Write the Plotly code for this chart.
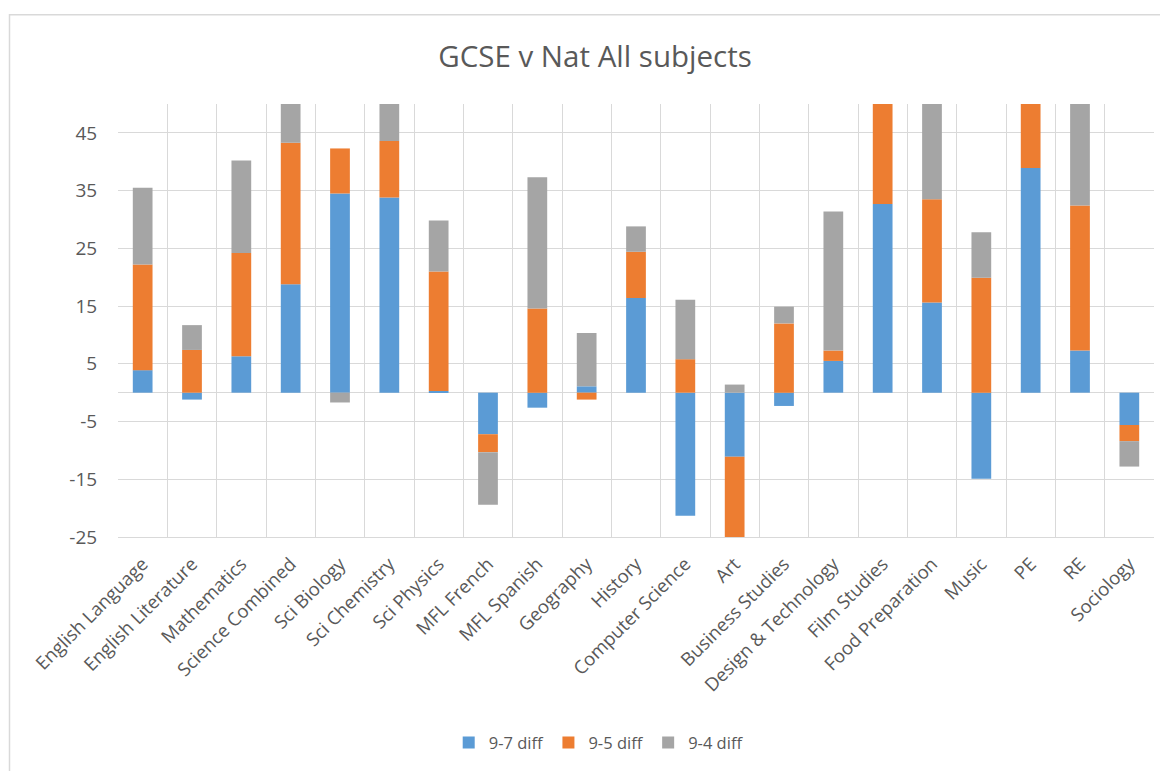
import plotly.graph_objects as go

categories = ["English Language", "English Literature", "Mathematics", "Science Combined",
              "Sci Biology", "Sci Chemistry", "Sci Physics", "MFL French", "MFL Spanish",
              "Geography", "History", "Computer Science", "Art", "Business Studies",
              "Design & Technology", "Film Studies", "Food Preparation", "Music", "PE",
              "RE", "Sociology"]

diff_97 = [3.9, -1.2, 6.3, 18.8, 34.5, 33.8, 0.3, -7.2, -2.6, 1.1, 16.4, -21.3, -11.1,
           -2.3, 5.5, 32.7, 15.6, -14.9, 38.9, 7.3, -5.6]
diff_95 = [18.3, 7.4, 17.9, 24.5, 7.8, 9.8, 20.7, -3.1, 14.6, -1.2, 8.0, 5.8, -16.0,
           12.0, 1.8, 19.5, 17.9, 19.9, 13.5, 25.1, -2.8]
diff_94 = [13.3, 4.3, 16.0, 9.5, -1.7, 8.5, 8.8, -9.1, 22.7, 9.25, 4.4, 10.3, 1.4,
           2.9, 24.1, 5.0, 19.0, 7.9, 4.0, 20.0, -4.4]

y_tick_values = [-25, -15, -5, 5, 15, 25, 35, 45]
y_tick_labels = ["-25", "-15", "-5", "5", "15", "25", "35", "45"]

series = [("9-7 diff", diff_97, "#5B9BD5"),
          ("9-5 diff", diff_95, "#ED7D31"),
          ("9-4 diff", diff_94, "#A5A5A5")]

FONT = "Open Sans"
TXT = "#595959"
GRID = "#D9D9D9"

# page body has an 8px margin; figure sized so it fills the 1168x771 window
W, H = 1160, 763
OFF = 8

fig = go.Figure()
for name, vals, col in series:
    fig.add_trace(go.Bar(x=categories, y=vals, name=name,
                         marker=dict(color=col, line=dict(width=0))))

fig.update_layout(
    width=W, height=H,
    barmode="relative", bargap=0.6,
    paper_bgcolor="white", plot_bgcolor="white",
    margin=dict(l=118 - OFF, r=14, t=104 - OFF, b=233),
    font=dict(family=FONT, color=TXT, size=16),
    title=dict(text="GCSE v Nat All subjects", x=(595 - OFF) / W, xref="container",
               xanchor="center", y=1 - (57 - OFF) / H, yref="container", yanchor="middle",
               font=dict(family=FONT, size=29.5, color=TXT)),
    legend=dict(orientation="h", x=0.464, xanchor="center", y=-0.472, yanchor="middle",
                font=dict(size=16.5, color=TXT), itemwidth=30, traceorder="normal"),
    xaxis=dict(type="category", tickson="boundaries", showgrid=True, gridcolor=GRID,
               gridwidth=1, tickangle=-45, ticks="", ticklabelstandoff=8,
               showline=True, linecolor=GRID,
               tickfont=dict(size=18.5, color=TXT), automargin=False),
    yaxis=dict(range=[-25, 50], tickmode="array", tickvals=y_tick_values,
               ticktext=y_tick_labels, showgrid=True, gridcolor=GRID,
               gridwidth=1, zeroline=True, zerolinecolor=GRID, zerolinewidth=1,
               ticks="outside", ticklen=16, tickcolor="rgba(0,0,0,0)",
               tickfont=dict(size=19, color=TXT), automargin=False),
    shapes=[dict(type="rect", xref="paper", yref="paper",
                 x0=(9.5 - 118) / 1036, x1=(1175 - 118) / 1036,
                 y0=(538 - 780) / 434, y1=(538 - 14.5) / 434,
                 line=dict(color="#D9D9D9", width=1.5), fillcolor="rgba(0,0,0,0)",
                 layer="below")],
)

fig.write_html("out.html")
